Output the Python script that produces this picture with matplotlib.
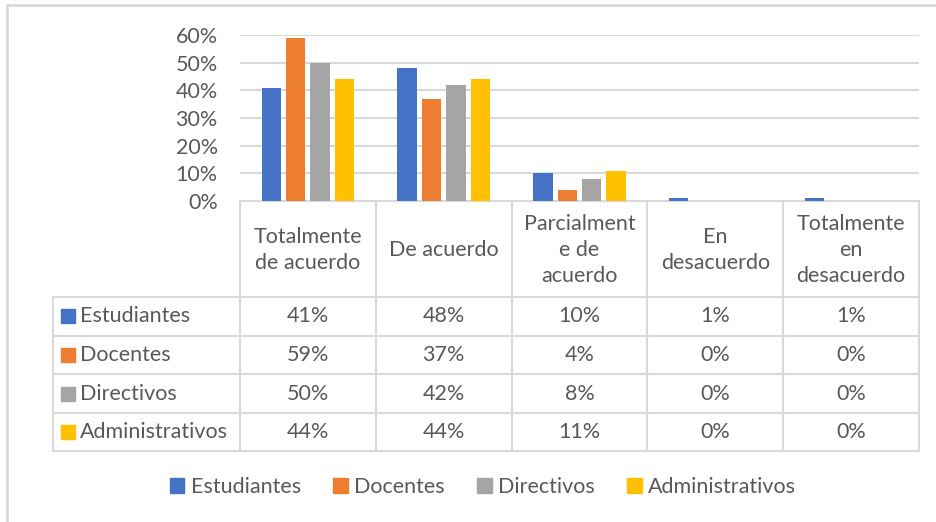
import matplotlib
matplotlib.use("Agg")
import matplotlib.pyplot as plt
from matplotlib.patches import Rectangle
import numpy as np

plt.rcParams['font.family'] = ['Lato', 'DejaVu Sans']

# datos
categorias = ["Totalmente\nde acuerdo", "De acuerdo", "Parcialment\ne de\nacuerdo",
              "En\ndesacuerdo", "Totalmente\nen\ndesacuerdo"]
grupos = ["Estudiantes", "Docentes", "Directivos", "Administrativos"]
estudiantes = [41, 48, 10, 1, 1]
docentes = [59, 37, 4, 0, 0]
directivos = [50, 42, 8, 0, 0]
administrativos = [44, 44, 11, 0, 0]
colores = ["#4472C4", "#ED7D31", "#A5A5A5", "#FFC000"]
yticks = [0, 10, 20, 30, 40, 50, 60]

series = [estudiantes, docentes, directivos, administrativos]

W, H = 937, 522
fig = plt.figure(figsize=(W / 100, H / 100), dpi=100)
texto = "#595959"
linea = "#D9D9D9"
fs = 15.5

# zona del grafico (en pixeles)
x0, x1 = 240, 919
y_top, y_base = 35, 201
ax = fig.add_axes([x0 / W, 1 - y_base / H, (x1 - x0) / W, (y_base - y_top) / H])
ax.set_xlim(-0.5, len(categorias) - 0.5)
ax.set_ylim(0, 60)
ancho = 0.143
paso = 0.18
x = np.arange(len(categorias))
for i, (vals, c) in enumerate(zip(series, colores)):
    ax.bar(x + (i - 1.5) * paso, np.array(vals), width=ancho, color=c, zorder=3)
ax.set_yticks(yticks)
ax.set_yticklabels([f"{v}%" for v in yticks], color=texto, fontsize=fs)
ax.tick_params(axis='y', length=0, pad=16)
ax.set_xticks([])
ax.grid(axis='y', color=linea, lw=1.5, zorder=0)
for s in ax.spines.values():
    s.set_visible(False)

# capa para la tabla de datos
ov = fig.add_axes([0, 0, 1, 1], zorder=-1)
ov.set_xlim(0, W)
ov.set_ylim(H, 0)
ov.axis('off')
ov.patch.set_alpha(0)

# marco exterior
ov.plot([7, 7, W + 5], [H + 5, 5, 5], color=linea, lw=2)

cols = np.linspace(x0, x1, len(categorias) + 1)
filas = [297, 335.5, 374, 413, 451]
lbl_x = 53

# bordes de la tabla
ov.plot([x1, x1], [y_base, filas[-1]], color=linea, lw=1.5)
for cx in cols[:-1]:
    ov.plot([cx, cx], [y_base, filas[-1]], color=linea, lw=1.5)
ov.plot([lbl_x, lbl_x], [filas[0], filas[-1]], color=linea, lw=1.5)
ov.plot([x0, x1], [y_base, y_base], color=linea, lw=1.5)
for fy in filas:
    ov.plot([lbl_x, x1], [fy, fy], color=linea, lw=1.5)

# encabezados
for j, cat in enumerate(categorias):
    ov.text((cols[j] + cols[j + 1]) / 2, (y_base + filas[0]) / 2 + 1, cat,
            ha='center', va='center', color=texto, fontsize=fs, linespacing=1.4)

# filas
for i, (g, vals, c) in enumerate(zip(grupos, series, colores)):
    cy = (filas[i] + filas[i + 1]) / 2
    ov.add_patch(Rectangle((61, cy - 7), 14, 14, color=c))
    ov.text(80, cy, g, ha='left', va='center', color=texto, fontsize=fs)
    for j, v in enumerate(vals):
        ov.text((cols[j] + cols[j + 1]) / 2, cy, f"{v}%", ha='center', va='center',
                color=texto, fontsize=fs)

# leyenda
handles = [Rectangle((0, 0), 1, 1, color=c) for c in colores]
fig.legend(handles, grupos, loc='center', bbox_to_anchor=(483 / W, 1 - 487 / H),
           ncol=4, frameon=False, fontsize=fs, handlelength=0.68, handleheight=0.68,
           handletextpad=0.3, columnspacing=1.5, labelcolor=texto)

fig.savefig("out.png", dpi=100, facecolor="white")
